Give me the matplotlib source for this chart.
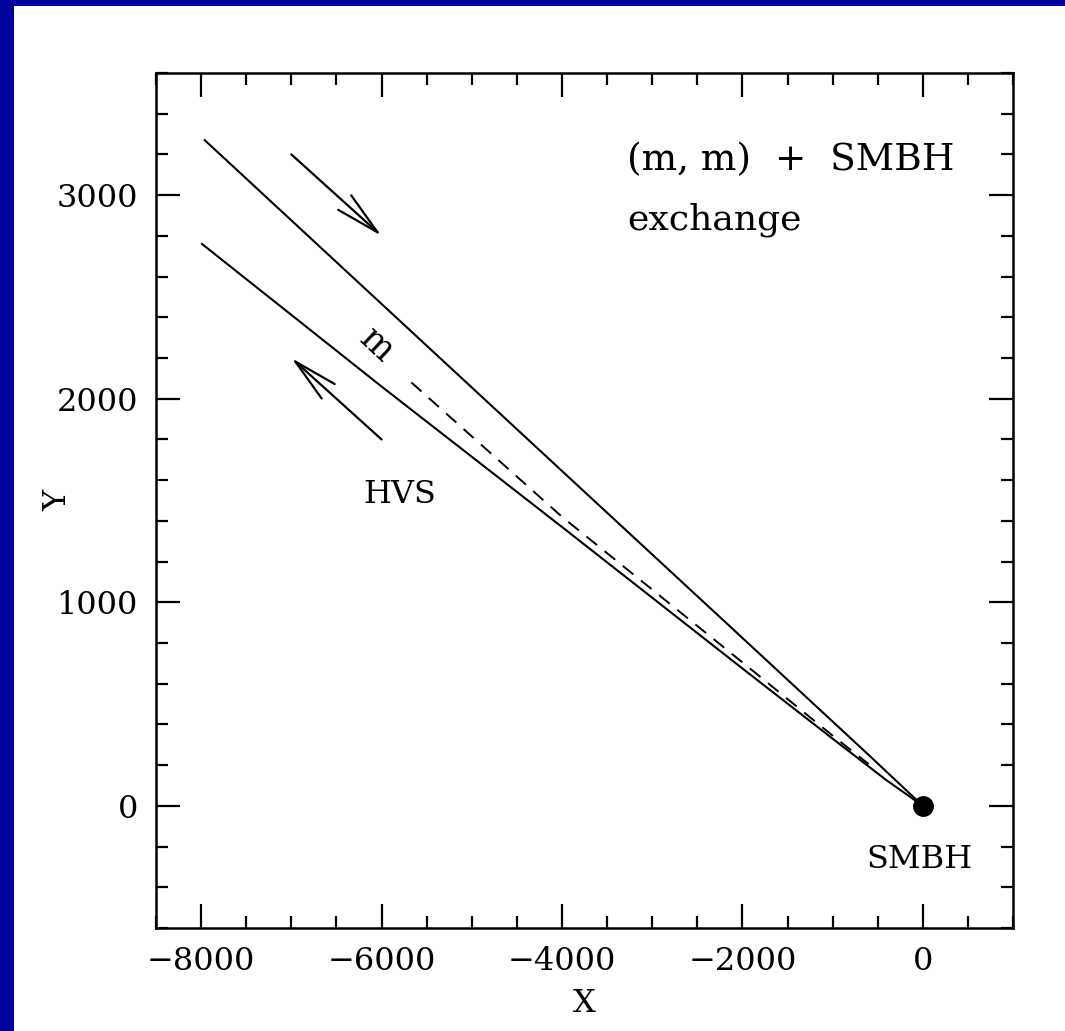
import numpy as np
import matplotlib
matplotlib.use("Agg")
import matplotlib.pyplot as plt
from matplotlib.patches import Rectangle
from matplotlib.ticker import MultipleLocator

# trajectories in the orbital plane, SMBH sits at the origin
incoming_x = [-7960, -4000, -2000, -600, 0]
incoming_y = [3270, 1645, 825, 250, 0]

hvs_x = [-7990, -6000, -4000, -2000, -1000, -400, 0]
hvs_y = [2760, 2060, 1370, 675, 330, 125, 0]

# the bound companion m
m_x = [-5670, -4000, -2000, -1000, -600]
m_y = [2080, 1420, 705, 345, 205]

smbh_x, smbh_y = 0, 0

# direction arrows (tail, head)
arrow_in = ((-7000, 3200), (-6000, 2800))
arrow_out = ((-6000, 1800), (-7000, 2200))

plt.rcParams['font.family'] = ['DejaVu Serif']
plt.rcParams['mathtext.fontset'] = 'dejavuserif'

fig = plt.figure(figsize=(10.65, 10.31), dpi=100)
fig.patch.set_facecolor('white')

# slide background strips on the left and top
fig.patches.append(Rectangle((0, 0), 14 / 1065, 1, transform=fig.transFigure,
                             facecolor='#00009c', edgecolor='none', zorder=0))
fig.patches.append(Rectangle((0, 1 - 6 / 1031), 1, 6 / 1031, transform=fig.transFigure,
                             facecolor='#00009c', edgecolor='none', zorder=0))

ax = fig.add_axes([0.1465, 0.0999, 0.8047, 0.8293])

ax.plot(incoming_x, incoming_y, color='black', lw=1.5)
ax.plot(hvs_x, hvs_y, color='black', lw=1.5)
ax.plot(m_x, m_y, color='black', lw=1.4, ls=(0, (7, 5)))
ax.plot(smbh_x, smbh_y, 'o', color='black', markersize=14)

for tail, head in (arrow_in, arrow_out):
    ax.annotate('', xy=head, xytext=tail,
                arrowprops=dict(arrowstyle='->, head_length=1.6, head_width=0.35',
                                color='black', lw=1.6, mutation_scale=20,
                                shrinkA=0, shrinkB=0))

ax.text(-3280, 3125, '(m, m)  +  SMBH', fontsize=27, ha='left', va='baseline')
ax.text(-3280, 2830, 'exchange', fontsize=26, ha='left', va='baseline')
ax.text(-6050, 2265, 'm', fontsize=25, ha='center', va='center', rotation=-43)
ax.text(-5800, 1489, 'HVS', fontsize=23, ha='center', va='baseline')
ax.text(-40, -305, 'SMBH', fontsize=23, ha='center', va='baseline')

ax.set_xlim(-8500, 1000)
ax.set_ylim(-600, 3600)

ax.xaxis.set_major_locator(MultipleLocator(2000))
ax.xaxis.set_minor_locator(MultipleLocator(500))
ax.yaxis.set_major_locator(MultipleLocator(1000))
ax.yaxis.set_minor_locator(MultipleLocator(200))

ax.tick_params(which='both', direction='in', top=True, right=True,
               width=1.6, labelsize=23, pad=13)
ax.tick_params(which='major', length=17)
ax.tick_params(which='minor', length=8.5)
for s in ax.spines.values():
    s.set_linewidth(1.8)

ax.set_xlabel('X', fontsize=23, labelpad=8)
ax.set_ylabel('Y', fontsize=23)
ax.yaxis.set_label_coords(-0.097, 0.5)

fig.savefig('out.png', dpi=100)
